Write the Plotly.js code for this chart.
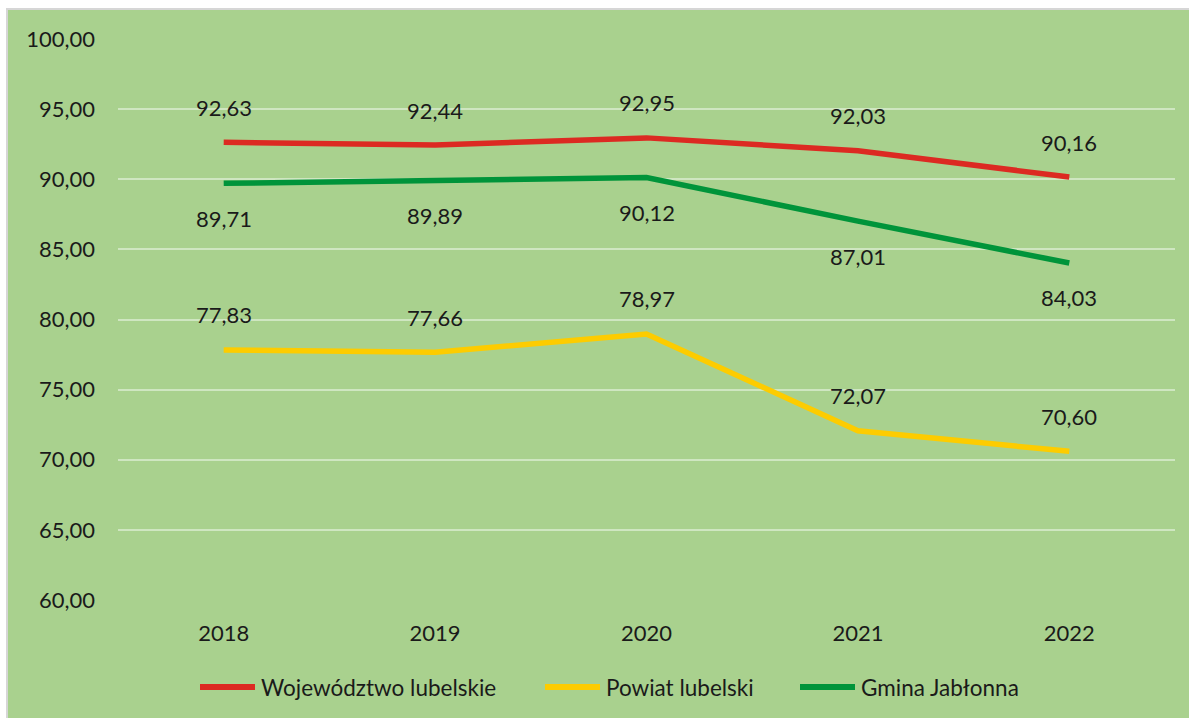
<!DOCTYPE html>
<html>
<head>
<meta charset="utf-8">
<script src="https://cdn.plot.ly/plotly-3.0.1.min.js"></script>
<style>
html,body{margin:0;padding:0;background:#fff;width:1189px;height:718px;overflow:hidden;}
#wrap{position:absolute;left:6px;top:8px;border-left:2px solid #d6d6d6;border-top:2px solid #d6d6d6;}
#chart{width:1181px;height:708px;}
</style>
</head>
<body>
<div id="wrap"><div id="chart"></div></div>
<script>
const years = ['2018','2019','2020','2021','2022'];
const wojewodztwo = [92.63, 92.44, 92.95, 92.03, 90.16];
const powiat = [77.83, 77.66, 78.97, 72.07, 70.60];
const gmina = [89.71, 89.89, 90.12, 87.01, 84.03];
const seriesNames = ['Województwo lubelskie', 'Powiat lubelski', 'Gmina Jabłonna'];
const yTicks = [60, 65, 70, 75, 80, 85, 90, 95, 100];

const colors = ['#dc2a22', '#fdcc00', '#00943a'];
const FONT = 'Lato, "Open Sans", sans-serif';
const TXT = '#1a1a1a';
const allSeries = [wojewodztwo, powiat, gmina];
const shifts = [35, 35, -35];

const traces = allSeries.map((vals, i) => ({
  type: 'scatter', mode: 'lines', name: seriesNames[i],
  x: years, y: vals,
  line: {color: colors[i], width: 5.5},
  hoverinfo: 'skip', showlegend: false
}));

const fmt = v => v.toFixed(2).replace('.', ',');
const annotations = [];
allSeries.forEach((vals, i) => {
  vals.forEach((v, j) => {
    annotations.push({
      x: j, y: v, xref: 'x', yref: 'y',
      text: fmt(v), showarrow: false, yshift: shifts[i],
      font: {family: FONT, size: 22, color: TXT}
    });
  });
});

// manual legend (paper coords relative to plot area: x 118..1175 px, y 39..600 px)
const plotL = 118, plotR = 1175, plotT = 39, plotB = 600;
const px2x = p => (p - plotL) / (plotR - plotL);
const legY = (plotB - 687) / (plotB - plotT);
const legStarts = [198, 543, 798];
const shapes = [];
seriesNames.forEach((name, i) => {
  const x0 = legStarts[i];
  shapes.push({
    type: 'line', xref: 'paper', yref: 'paper',
    x0: px2x(x0 + 2), x1: px2x(x0 + 57), y0: legY, y1: legY,
    line: {color: colors[i], width: 6}
  });
  annotations.push({
    xref: 'paper', yref: 'paper', x: px2x(x0 + 61), y: legY,
    xanchor: 'left', yanchor: 'middle', showarrow: false,
    text: name, font: {family: FONT, size: 22.5, color: TXT}
  });
});

const layout = {
  width: 1181, height: 708,
  paper_bgcolor: '#a9d18e', plot_bgcolor: '#a9d18e',
  margin: {l: 110, r: 14, t: 29, b: 118},
  showlegend: false,
  xaxis: {
    type: 'category', range: [-0.5, 4.5], showgrid: false, zeroline: false,
    showline: false, ticks: '', ticklabelstandoff: 18,
    tickfont: {family: FONT, size: 22, color: TXT}
  },
  yaxis: {
    range: [60, 100], tickvals: yTicks, ticktext: yTicks.map(fmt),
    showgrid: true, gridcolor: '#cfe6c1', gridwidth: 2, zeroline: false,
    showline: false, ticks: '', ticklabelstandoff: 22,
    tickfont: {family: FONT, size: 22, color: TXT}
  },
  shapes: shapes,
  annotations: annotations
};

Plotly.newPlot('chart', traces, layout, {displayModeBar: false, staticPlot: true});
</script>
</body>
</html>
